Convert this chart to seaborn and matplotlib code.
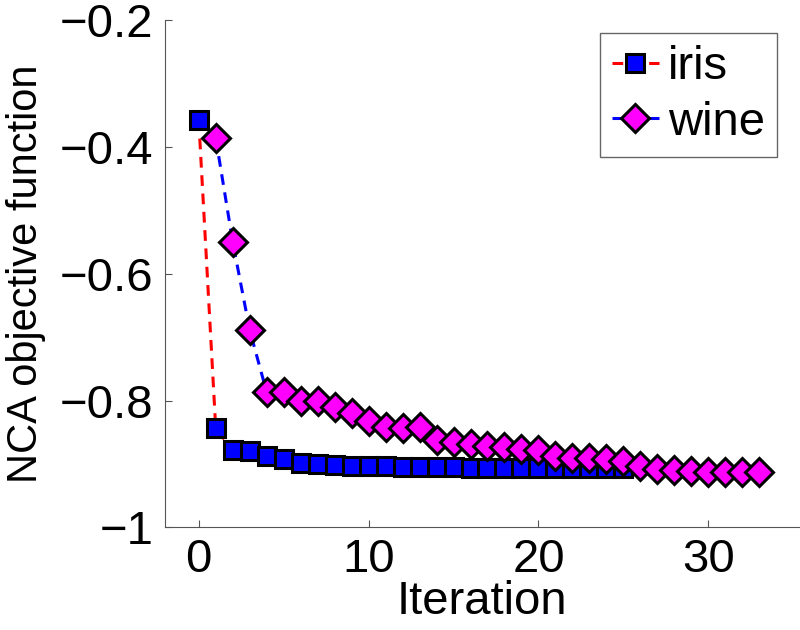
import matplotlib
matplotlib.use("Agg")
import matplotlib.pyplot as plt
import numpy as np
import pandas as pd
import seaborn as sns

# Data
iris_iter = list(range(0, 26))
iris_obj = [-0.358, -0.844, -0.878, -0.879, -0.888, -0.892, -0.898, -0.900,
            -0.902, -0.903, -0.904, -0.904, -0.905, -0.905, -0.905, -0.905,
            -0.906, -0.906, -0.906, -0.906, -0.906, -0.906, -0.907, -0.907,
            -0.907, -0.907]

wine_iter = list(range(1, 34))
wine_obj = [-0.386, -0.550, -0.689, -0.787, -0.787, -0.800, -0.801, -0.810,
            -0.819, -0.832, -0.841, -0.843, -0.841, -0.862, -0.865, -0.868,
            -0.871, -0.873, -0.876, -0.878, -0.888, -0.890, -0.891, -0.892,
            -0.895, -0.904, -0.908, -0.910, -0.911, -0.913, -0.913, -0.913,
            -0.913]

x_ticks = [0, 10, 20, 30]
y_ticks = [-1, -0.8, -0.6, -0.4, -0.2]
y_tick_labels = ["\u22121", "\u22120.8", "\u22120.6", "\u22120.4", "\u22120.2"]

sns.set_style("ticks")
plt.rcParams["font.family"] = ["Liberation Sans", "DejaVu Sans"]
plt.rcParams["xtick.direction"] = "in"
plt.rcParams["ytick.direction"] = "in"
plt.rcParams["text.color"] = "black"
plt.rcParams["axes.labelcolor"] = "black"

FS = 34

fig = plt.figure(figsize=(8, 6.3), dpi=100)
ax = fig.add_axes([0.206, 0.163, 0.794, 0.805])

iris_df = pd.DataFrame({"Iteration": iris_iter, "obj": iris_obj})
wine_df = pd.DataFrame({"Iteration": wine_iter, "obj": wine_obj})

sns.lineplot(data=iris_df, x="Iteration", y="obj", ax=ax, color="red",
             linestyle=(0, (3.5, 2.5)), linewidth=2.2, marker="s", markersize=13.5,
             markerfacecolor="blue", markeredgecolor="black",
             markeredgewidth=2.2, label="iris")
sns.lineplot(data=wine_df, x="Iteration", y="obj", ax=ax, color="blue",
             linestyle=(0, (3.5, 2.5)), linewidth=2.2, marker="D", markersize=14,
             markerfacecolor="magenta", markeredgecolor="black",
             markeredgewidth=2.2, label="wine")

ax.set_xlim(-2, 35.4)
ax.set_ylim(-1, -0.2)
ax.set_xticks(x_ticks)
ax.set_xticklabels([str(t) for t in x_ticks])
ax.set_yticks(y_ticks)
ax.set_yticklabels(y_tick_labels)
ax.tick_params(labelsize=FS, length=5, width=0.8, colors="#555555",
               labelcolor="black", pad=8)
ax.set_xlabel("Iteration", fontsize=FS, labelpad=-2, color="black")
ax.set_ylabel("NCA objective function", fontsize=30, labelpad=10, color="black")

for side in ["top", "right"]:
    ax.spines[side].set_visible(False)
for side in ["left", "bottom"]:
    ax.spines[side].set_color("#555555")
    ax.spines[side].set_linewidth(0.8)

leg = ax.legend(loc="upper right", fontsize=FS, frameon=True, fancybox=False,
                edgecolor="#666666", framealpha=1, handlelength=1.0,
                handletextpad=0.2, borderpad=0.25, labelspacing=0.25,
                borderaxespad=0.0, bbox_to_anchor=(0.964, 0.974))
leg.get_frame().set_linewidth(1.0)
for t in leg.get_texts():
    t.set_color("black")

fig.savefig("out.png", dpi=100)
